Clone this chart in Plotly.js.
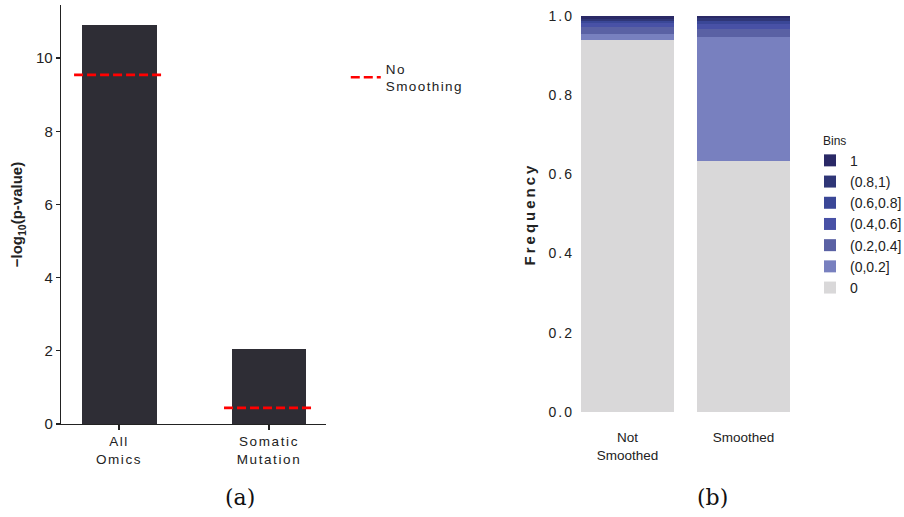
<!DOCTYPE html>
<html>
<head>
<meta charset="utf-8">
<script src="https://cdn.plot.ly/plotly-3.0.1.min.js"></script>
<style>
  html, body { margin: 0; padding: 0; background: #fff; }
  #chart { width: 904px; height: 517px; }
  .y2title { letter-spacing: 3px; }
  .y2tick text { letter-spacing: 2px; }
  .xtick text { letter-spacing: 1.6px; }
  g.legend .legendtext { letter-spacing: 1.4px; }
  .infolayer .scrollbox { clip-path: none !important; }
</style>
</head>
<body>
<div id="chart"></div>
<script>
// ---- Panel (a) data ----
const groupsA = ["All<br>Omics", "Somatic<br>Mutation"];
const pvalA = [10.9, 2.04];
const noSmoothA = [9.54, 0.44];

// ---- Panel (b) data ----
const conditionsB = ["Not<br>Smoothed", "Smoothed"];
const binLabels = ["0", "(0,0.2]", "(0.2,0.4]", "(0.4,0.6]", "(0.6,0.8]", "(0.8,1)", "1"];
const binFreqNotSmoothed = [0.939, 0.015, 0.017, 0.010, 0.0066, 0.006, 0.006];
const binFreqSmoothed    = [0.634, 0.314, 0.0194, 0.0126, 0.0076, 0.007, 0.006];
const binColors = ["#d9d8d9", "#7880bf", "#5a61a4", "#4851a6", "#3a4797", "#2f3677", "#2a2966"];

const font = "Arial";
const txt = "#222";

const traces = [];
// (a) bars
traces.push({
  type: "bar", x: groupsA.map((_, i) => i), y: pvalA, width: 0.5,
  marker: { color: "#2e2d35" }, showlegend: false, xaxis: "x", yaxis: "y",
  hoverinfo: "y"
});
// (a) no smoothing dashed lines
const lx = [], ly = [];
noSmoothA.forEach((v, i) => { lx.push(i - 0.3, i + 0.3, null); ly.push(v, v, null); });
traces.push({
  type: "scatter", mode: "lines", x: lx, y: ly, name: "No<br>Smoothing",
  line: { color: "#ff0000", width: 2.6, dash: "9px,4px" },
  xaxis: "x", yaxis: "y", legend: "legend"
});
// (b) stacked bars
binLabels.forEach((lab, k) => {
  traces.push({
    type: "bar", x: conditionsB.map((_, i) => i),
    y: [binFreqNotSmoothed[k], binFreqSmoothed[k]],
    name: lab, width: 0.8, marker: { color: binColors[k], line: { width: 0 } },
    xaxis: "x2", yaxis: "y2", legend: "legend2"
  });
});

const layout = {
  width: 904, height: 517,
  margin: { l: 0, r: 0, t: 0, b: 0, autoexpand: false },
  paper_bgcolor: "#fff", plot_bgcolor: "rgba(0,0,0,0)",
  barmode: "stack",
  font: { family: font, color: txt, size: 13 },
  showlegend: true,
  xaxis: {
    domain: [0.0675, 0.3606], range: [-0.387, 1.38],
    tickvals: groupsA.map((_, i) => i), ticktext: groupsA,
    showline: true, linecolor: "#222", linewidth: 1.3,
    ticks: "outside", ticklen: 5, tickcolor: "#222", tickwidth: 1.3,
    showgrid: false, zeroline: false, fixedrange: true,
    tickfont: { size: 13.5, color: txt }
  },
  yaxis: {
    domain: [0.1799, 0.9903], range: [0, 11.45],
    tickvals: [0, 2, 4, 6, 8, 10],
    showline: true, linecolor: "#222", linewidth: 1.3,
    ticks: "outside", ticklen: 4, tickcolor: "#222", tickwidth: 1.3,
    showgrid: false, zeroline: false,
    tickfont: { size: 15, color: txt },
    title: { text: "−log<sub>10</sub>(p-value)", font: { size: 15, color: txt, weight: "bold" }, standoff: 9 }
  },
  xaxis2: {
    domain: [0.636, 0.8805], range: [-0.453, 1.453],
    tickvals: conditionsB.map((_, i) => i), ticktext: conditionsB,
    showline: false, ticks: "", showgrid: false, zeroline: false,
    ticklabelstandoff: 16,
    tickfont: { size: 13.5, color: txt }, anchor: "y2"
  },
  yaxis2: {
    domain: [0.2031, 0.9691], range: [0, 1.0],
    tickvals: [0, 0.2, 0.4, 0.6, 0.8, 1.0], tickformat: ".1f",
    showline: false, ticks: "", showgrid: false, zeroline: false,
    tickfont: { size: 14, color: txt }, anchor: "x2",
    title: { text: "Frequency", font: { size: 15, color: txt, weight: "bold" }, standoff: 9 }
  },
  legend: {
    x: 0.3825, y: 0.897, xanchor: "left", yanchor: "top",
    bgcolor: "rgba(0,0,0,0)", font: { size: 13.5, color: txt }
  },
  legend2: {
    x: 0.896, y: 0.72, xanchor: "left", yanchor: "top",
    bgcolor: "rgba(0,0,0,0)", traceorder: "reversed",
    font: { size: 14, color: txt }, tracegroupgap: 0
  },
  annotations: [
    { text: "(a)", x: 240 / 904, y: (517 - 497) / 517, xref: "paper", yref: "paper", showarrow: false,
      xanchor: "center", yanchor: "middle",
      font: { family: "DejaVu Serif, Liberation Serif, serif", size: 22, color: "#111" } },
    { text: "(b)", x: 712 / 904, y: (517 - 497) / 517, xref: "paper", yref: "paper", showarrow: false,
      xanchor: "center", yanchor: "middle",
      font: { family: "DejaVu Serif, Liberation Serif, serif", size: 22, color: "#111" } },
    { text: "Bins", x: 821 / 904, y: (517 - 141) / 517, xref: "paper", yref: "paper", showarrow: false,
      xanchor: "left", yanchor: "middle",
      font: { size: 12, color: txt } }
  ]
};

Plotly.newPlot("chart", traces, layout, { displayModeBar: false, staticPlot: true });
</script>
</body>
</html>
